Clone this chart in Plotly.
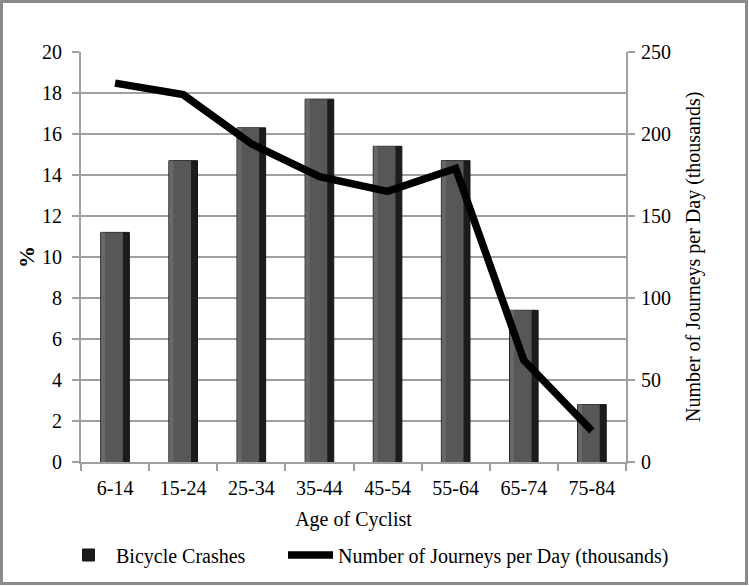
import plotly.graph_objects as go

age_groups = ["6-14", "15-24", "25-34", "35-44", "45-54", "55-64", "65-74", "75-84"]
crash_pct = [11.2, 14.7, 16.3, 17.7, 15.4, 14.7, 7.4, 2.8]
journeys_k = [231, 224, 194, 174, 165, 179, 62, 19]

W, H = 749, 586
ML, MR, MT, MB = 81, 123, 52, 124
PW, PH = W - ML - MR, H - MT - MB


def px(p):
    return (p - ML) / PW


def py(p):
    return (MT + PH - p) / PH


font_family = "Liberation Serif, Times New Roman, serif"
FS = 20

fig = go.Figure()
fig.add_trace(go.Bar(
    x=age_groups, y=crash_pct, name="Bicycle Crashes",
    width=0.42, marker=dict(color="#1c1c1c", line=dict(color="#151515", width=1)),
    yaxis="y", showlegend=True, legend="legend",
))
fig.add_trace(go.Bar(
    x=age_groups, y=crash_pct, name="Bicycle Crashes",
    width=0.32, offset=-0.205, marker=dict(color="#575757", line=dict(width=0)),
    yaxis="y", showlegend=False, hoverinfo="skip",
))
fig.add_trace(go.Bar(
    x=age_groups, y=crash_pct, name="Bicycle Crashes",
    width=0.06, offset=-0.205, marker=dict(color="#686868", line=dict(width=0)),
    yaxis="y", showlegend=False, hoverinfo="skip",
))
fig.add_trace(go.Scatter(
    x=age_groups, y=journeys_k, name="Number of Journeys per Day (thousands)",
    mode="lines", line=dict(color="black", width=7.5), yaxis="y2", legend="legend2",
))

grid = "#a0a0a0"
legend_common = dict(
    orientation="h", xref="container", xanchor="left",
    y=py(555), yanchor="middle",
    font=dict(size=FS, family=font_family), bgcolor="rgba(0,0,0,0)",
    itemwidth=45,
)
fig.update_layout(
    width=W, height=H,
    margin=dict(l=ML, r=MR, t=MT, b=MB, autoexpand=False),
    paper_bgcolor="white", plot_bgcolor="white",
    barmode="overlay",
    font=dict(family=font_family, size=FS, color="black"),
    xaxis=dict(
        type="category", showgrid=False, showline=True, linecolor=grid, linewidth=2,
        ticks="outside", tickson="boundaries", ticklen=7, tickcolor=grid, tickwidth=2,
        ticklabelstandoff=7,
        title=dict(text="Age of Cyclist", standoff=14, font=dict(size=FS)),
        tickfont=dict(size=FS),
    ),
    yaxis=dict(
        range=[0, 20], dtick=2, showgrid=True, gridcolor=grid, gridwidth=2,
        showline=True, linecolor=grid, linewidth=2, ticks="outside", ticklen=7,
        tickcolor=grid, tickwidth=2, ticklabelstandoff=6,
        zeroline=False, tickfont=dict(size=FS),
    ),
    yaxis2=dict(
        range=[0, 250], dtick=50, overlaying="y", side="right", showgrid=False,
        showline=True, linecolor=grid, linewidth=2, ticks="outside", ticklen=7,
        tickcolor=grid, tickwidth=2, ticklabelstandoff=2,
        zeroline=False, tickfont=dict(size=FS),
    ),
    legend=dict(legend_common, x=61 / W),
    legend2=dict(legend_common, x=283 / W),
    annotations=[
        dict(
            text="Number of Journeys per Day (thousands)", textangle=-90,
            xref="paper", yref="paper", x=px(693), y=py(257),
            xanchor="center", yanchor="middle", showarrow=False,
            font=dict(size=FS, family=font_family),
        ),
        dict(
            text="<b>%</b>", textangle=-90,
            xref="paper", yref="paper", x=px(26), y=py(257),
            xanchor="center", yanchor="middle", showarrow=False,
            font=dict(size=22, family=font_family),
        ),
    ],
)

fig.add_shape(
    type="rect", xref="paper", yref="paper",
    x0=px(1.5), x1=px(W - 2.5),
    y0=py(H - 2.5), y1=py(1.5),
    line=dict(color="#8a8a8a", width=3), fillcolor="rgba(0,0,0,0)", layer="below",
)

fig.write_html("out.html", post_script="document.body.style.margin='0';",
               config={"displayModeBar": False})
